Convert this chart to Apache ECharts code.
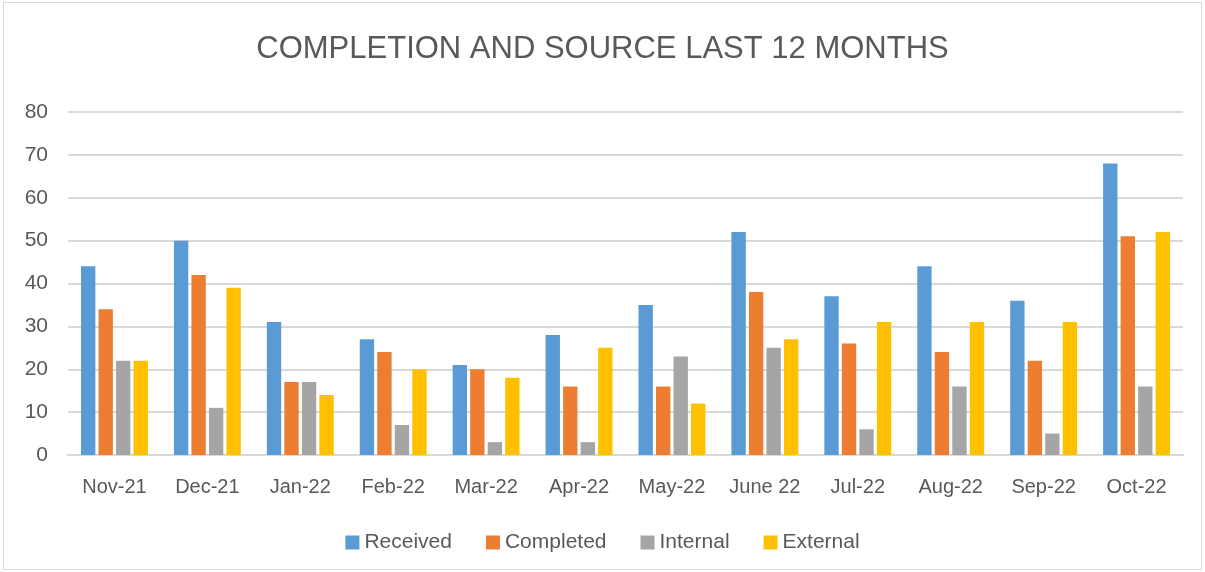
<!DOCTYPE html>
<html>
<head>
<meta charset="utf-8">
<script src="https://cdn.jsdelivr.net/npm/echarts@6/dist/echarts.min.js"></script>
<style>
    html, body { margin: 0; padding: 0; background: #fff; }
    #charts { position: absolute; left: 3px; top: 2px; width: 1197px; height: 566px; border: 1px solid #d9d9d9; }
</style>
</head>
<body>
<div id="charts"></div>
<script>
var months = ['Nov-21', 'Dec-21', 'Jan-22', 'Feb-22', 'Mar-22', 'Apr-22', 'May-22', 'June 22', 'Jul-22', 'Aug-22', 'Sep-22', 'Oct-22'];
var received = [44, 50, 31, 27, 21, 28, 35, 52, 37, 44, 36, 68];
var completed = [34, 42, 17, 24, 20, 16, 16, 38, 26, 24, 22, 51];
var internal = [22, 11, 17, 7, 3, 3, 23, 25, 6, 16, 5, 16];
var external = [22, 39, 14, 20, 18, 25, 12, 27, 31, 31, 31, 52];

function initBarChart() {
    var myChart = echarts.init(document.getElementById('charts'));
    var font = '"Liberation Sans", "Open Sans", sans-serif';
    function bar(name, data, color) {
        return {
            name: name,
            type: 'bar',
            data: data,
            barGap: '22%',
            barCategoryGap: '28%',
            itemStyle: { color: color }
        };
    }
    var option = {
        animation: false,
        textStyle: { fontFamily: font },
        title: {
            text: 'COMPLETION AND SOURCE LAST 12 MONTHS',
            left: 'center',
            top: 26,
            textStyle: { fontFamily: font, fontSize: 31, fontWeight: 'normal', color: '#595959' }
        },
        legend: {
            bottom: 11,
            left: 'center',
            itemWidth: 14,
            itemHeight: 14,
            itemGap: 34,
            icon: 'rect',
            textStyle: { fontFamily: font, fontSize: 21, color: '#595959' },
            data: ['Received', 'Completed', 'Internal', 'External']
        },
        grid: {
            left: 64,
            right: 18,
            top: 109,
            bottom: 114
        },
        xAxis: {
            type: 'category',
            data: months,
            axisTick: { show: false },
            axisLine: { lineStyle: { color: '#d9d9d9', width: 2 } },
            axisLabel: { interval: 0, fontSize: 20, color: '#595959', margin: 22 }
        },
        yAxis: {
            type: 'value',
            min: 0,
            max: 80,
            interval: 10,
            axisLabel: { fontSize: 21, color: '#595959', margin: 20 },
            splitLine: { lineStyle: { color: '#d9d9d9', width: 2 } }
        },
        series: [
            bar('Received', received, '#5b9bd5'),
            bar('Completed', completed, '#ed7d31'),
            bar('Internal', internal, '#a5a5a5'),
            bar('External', external, '#ffc000')
        ]
    };
    myChart.setOption(option);
}
initBarChart();
</script>
</body>
</html>
